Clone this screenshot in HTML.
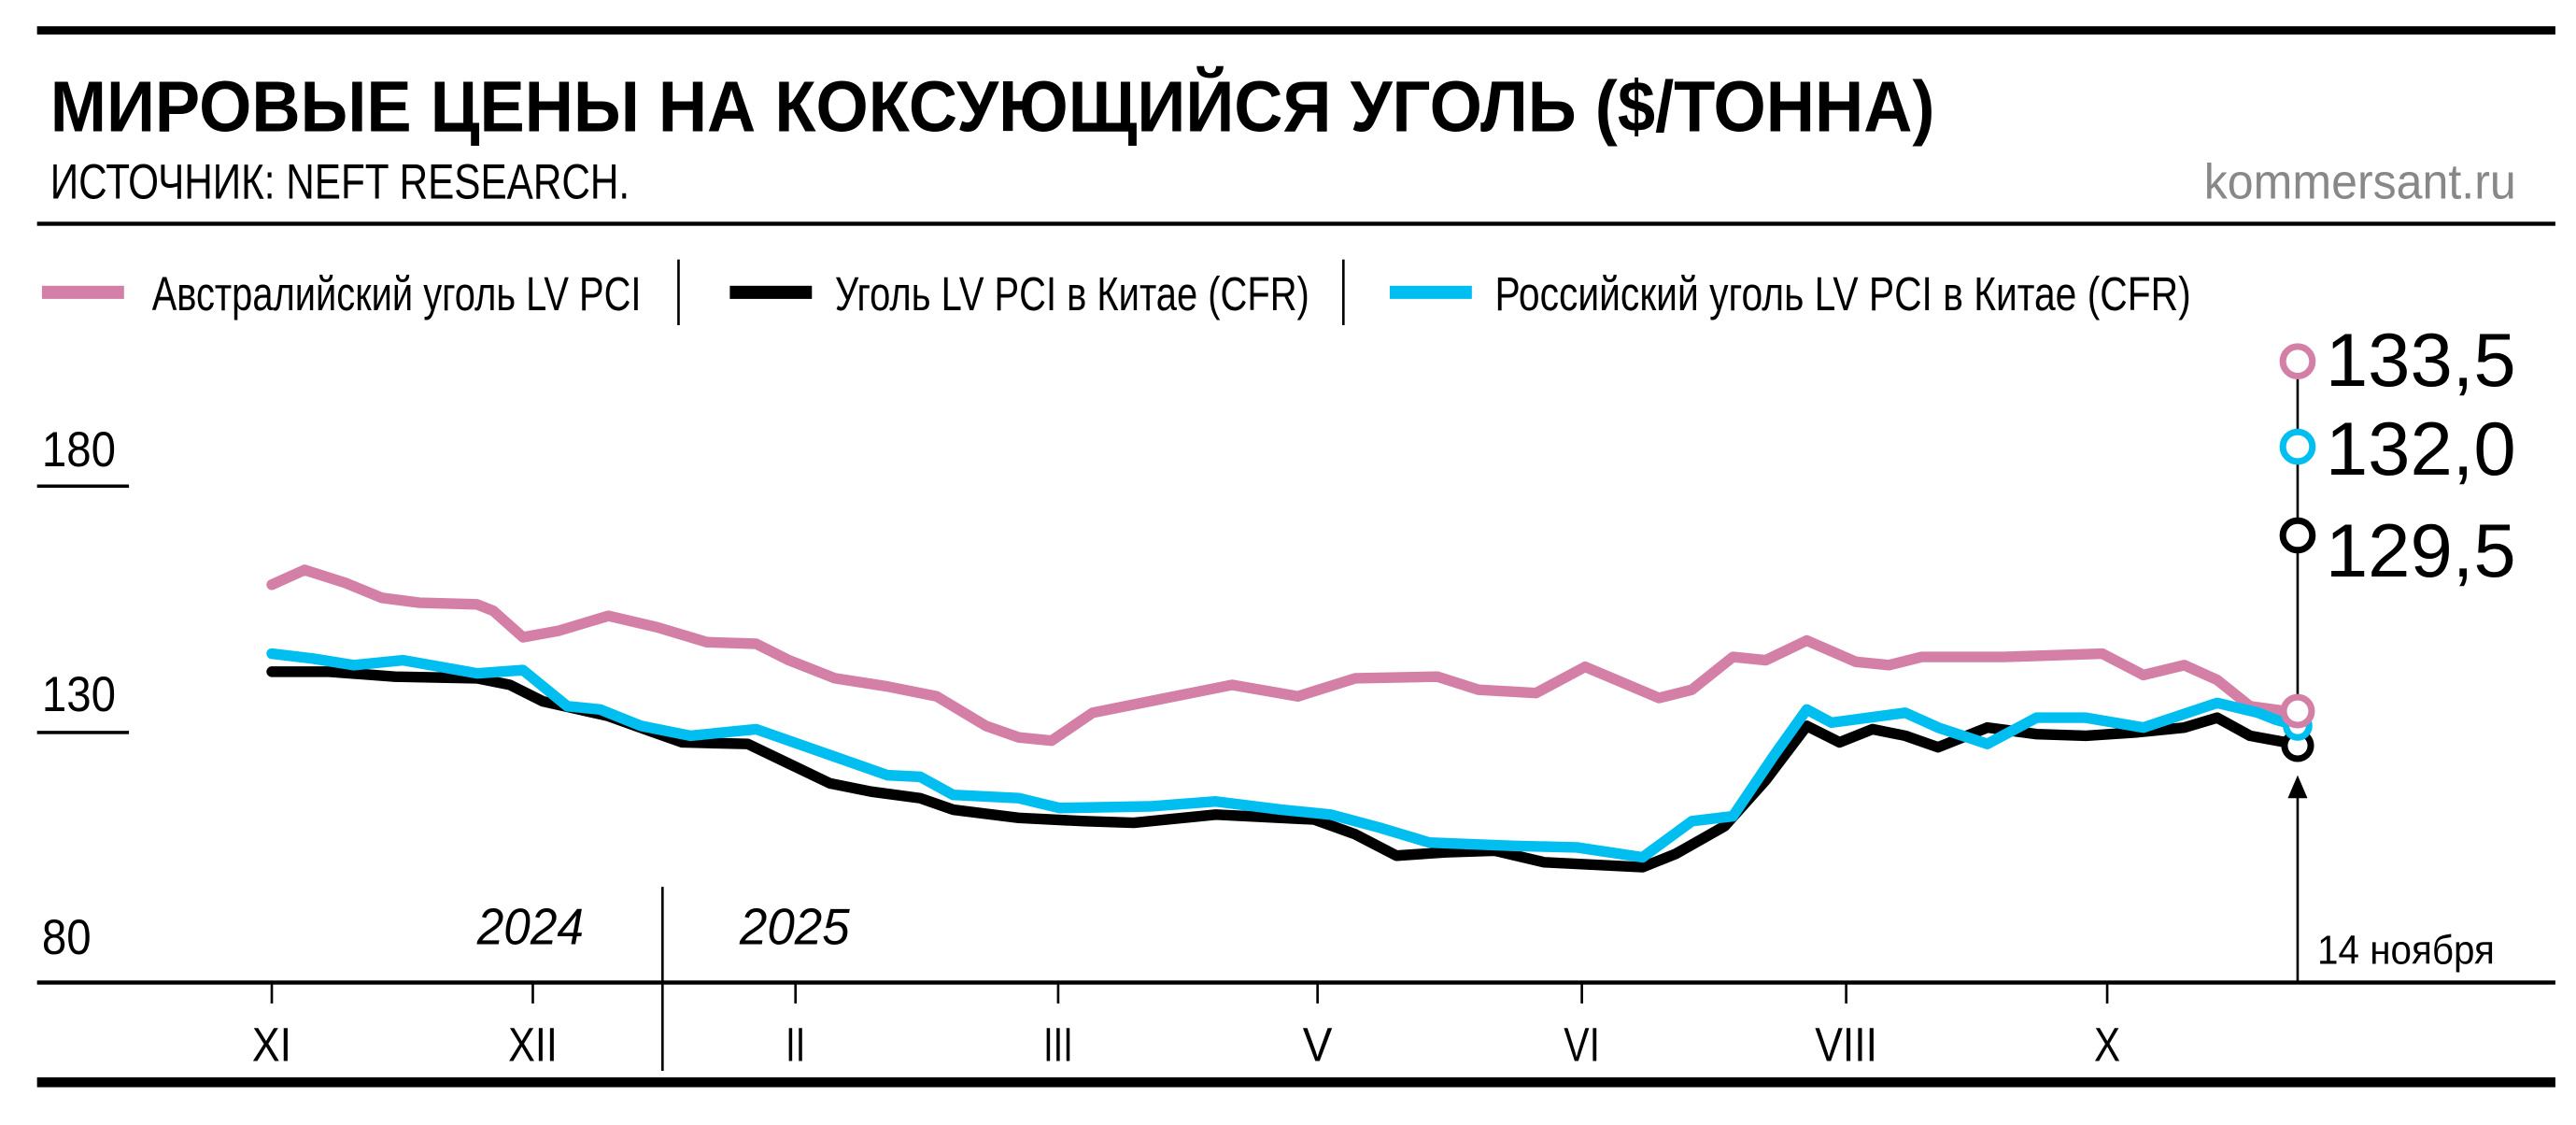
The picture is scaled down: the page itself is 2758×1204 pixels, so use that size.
<!DOCTYPE html>
<html><head><meta charset="utf-8"><style>
html,body{margin:0;padding:0;background:#fff;}
svg{display:block;}
text{font-family:"Liberation Sans","DejaVu Sans",sans-serif;}
</style></head><body>
<svg width="2758" height="1204" viewBox="0 0 1568 685" xmlns="http://www.w3.org/2000/svg">
<rect x="22" y="16" width="1534" height="5" fill="#000"/>
<text x="30" y="80" font-size="44" font-weight="bold" textLength="1148" lengthAdjust="spacingAndGlyphs">МИРОВЫЕ ЦЕНЫ НА КОКСУЮЩИЙСЯ УГОЛЬ ($/ТОННА)</text>
<text x="30" y="121" font-size="30" textLength="353" lengthAdjust="spacingAndGlyphs">ИСТОЧНИК: NEFT RESEARCH.</text>
<text x="1532" y="121" font-size="30" fill="#888" text-anchor="end" textLength="190" lengthAdjust="spacingAndGlyphs">kommersant.ru</text>
<rect x="22" y="135" width="1534" height="2.5" fill="#000"/>
<!-- legend -->
<rect x="25" y="174" width="50" height="8" fill="#d47fa6"/>
<text x="92" y="189" font-size="29" textLength="298" lengthAdjust="spacingAndGlyphs">Австралийский уголь LV PCI</text>
<rect x="412" y="158" width="1.5" height="40" fill="#000"/>
<rect x="444" y="174" width="50" height="8" fill="#000"/>
<text x="508" y="189" font-size="29" textLength="289" lengthAdjust="spacingAndGlyphs">Уголь LV PCI в Китае (CFR)</text>
<rect x="817" y="158" width="1.5" height="40" fill="#000"/>
<rect x="846" y="174" width="50" height="8" fill="#00bff0"/>
<text x="910" y="189" font-size="29" textLength="424" lengthAdjust="spacingAndGlyphs">Российский уголь LV PCI в Китае (CFR)</text>
<!-- y labels -->
<text x="25" y="284" font-size="30" textLength="45" lengthAdjust="spacingAndGlyphs">180</text>
<rect x="22" y="295" width="56" height="2" fill="#000"/>
<text x="25" y="433" font-size="30" textLength="45" lengthAdjust="spacingAndGlyphs">130</text>
<rect x="22" y="445" width="56" height="2" fill="#000"/>
<text x="25" y="581" font-size="30" textLength="30" lengthAdjust="spacingAndGlyphs">80</text>
<!-- x axis -->
<rect x="22" y="597" width="1534" height="2.5" fill="#000"/>
<g stroke="#000" stroke-width="1.5">
<line x1="165" y1="598" x2="165" y2="611"/><line x1="324" y1="598" x2="324" y2="611"/>
<line x1="484" y1="598" x2="484" y2="611"/><line x1="644" y1="598" x2="644" y2="611"/>
<line x1="802" y1="598" x2="802" y2="611"/><line x1="963" y1="598" x2="963" y2="611"/>
<line x1="1124" y1="598" x2="1124" y2="611"/><line x1="1283" y1="598" x2="1283" y2="611"/>
<line x1="403" y1="540" x2="403" y2="652"/>
</g>
<g font-size="29" text-anchor="middle">
<text x="165" y="646" textLength="24" lengthAdjust="spacingAndGlyphs">XI</text><text x="324" y="646" textLength="30" lengthAdjust="spacingAndGlyphs">XII</text><text x="484" y="646" textLength="12" lengthAdjust="spacingAndGlyphs">II</text>
<text x="644" y="646" textLength="18" lengthAdjust="spacingAndGlyphs">III</text><text x="802" y="646" textLength="18" lengthAdjust="spacingAndGlyphs">V</text><text x="963" y="646" textLength="22" lengthAdjust="spacingAndGlyphs">VI</text>
<text x="1124" y="646" textLength="38" lengthAdjust="spacingAndGlyphs">VIII</text><text x="1283" y="646" textLength="16" lengthAdjust="spacingAndGlyphs">X</text>
</g>
<text x="290" y="575" font-size="31" font-style="italic" textLength="65" lengthAdjust="spacingAndGlyphs">2024</text>
<text x="450" y="575" font-size="31" font-style="italic" textLength="67" lengthAdjust="spacingAndGlyphs">2025</text>
<rect x="22" y="656" width="1534" height="6" fill="#000"/>
<!-- marker line -->
<line x1="1399" y1="220" x2="1399" y2="440" stroke="#000" stroke-width="1.5"/>
<line x1="1399" y1="480" x2="1399" y2="598" stroke="#000" stroke-width="1.5"/>
<polygon points="1399,472 1393,486 1405,486" fill="#000"/>
<text x="1411" y="587" font-size="25" textLength="108" lengthAdjust="spacingAndGlyphs">14 ноября</text>
<!-- series -->
<g fill="none" stroke-width="6.5" stroke-linejoin="round" stroke-linecap="round">
<polyline stroke="#d47fa6" points="165,356 185,347 210,355 232,364 255,367 290,368 300,372 318,388 340,384 370,375 400,382 430,391 460,392 480,402 508,413 540,418 570,424 600,442 620,449 640,451 665,434 700,427 750,417 790,424 825,413 875,412 900,420 935,422 965,406 1010,425 1030,420 1055,400 1075,402 1100,390 1130,403 1150,405 1170,400 1220,400 1280,398 1305,411 1330,405 1350,414 1370,430 1399,434"/>
<polyline stroke="#000" points="165,409 200,409 240,412 290,413 310,417 330,427 370,436 395,445 415,452 455,453 480,465 505,477 530,482 560,486 580,493 620,498 660,500 690,501 740,496 800,499 825,508 850,521 880,519 910,518 940,525 1000,528 1020,520 1050,503 1075,475 1100,442 1120,452 1140,444 1160,448 1180,455 1210,443 1240,447 1270,448 1300,446 1330,443 1350,437 1370,448 1392,452 1399,455"/>
<polyline stroke="#00bff0" points="165,398 190,401 215,405 245,402 290,410 318,408 345,430 365,432 390,442 420,448 460,444 500,458 540,472 560,473 580,484 620,486 645,492 700,491 740,488 780,493 810,496 840,504 870,513 920,515 960,516 1000,522 1030,500 1055,497 1080,460 1100,432 1115,440 1130,438 1160,434 1180,443 1210,453 1240,437 1270,437 1305,443 1350,428 1375,434 1385,438 1399,442"/>
</g>
<g fill="#fff" stroke-width="4">
<circle cx="1399" cy="454" r="8" stroke="#000"/>
<circle cx="1399" cy="442" r="7" stroke="#00bff0"/>
<circle cx="1399" cy="433" r="8.5" stroke="#d47fa6"/>
<circle cx="1399" cy="220" r="9" stroke="#d47fa6"/>
<circle cx="1399" cy="272" r="9" stroke="#00bff0"/>
<circle cx="1399" cy="326" r="9" stroke="#000"/>
</g>
<g font-size="46">
<text x="1416" y="235" textLength="116" lengthAdjust="spacingAndGlyphs">133,5</text>
<text x="1416" y="289" textLength="116" lengthAdjust="spacingAndGlyphs">132,0</text>
<text x="1416" y="351" textLength="116" lengthAdjust="spacingAndGlyphs">129,5</text>
</g>
</svg>
</body></html>
